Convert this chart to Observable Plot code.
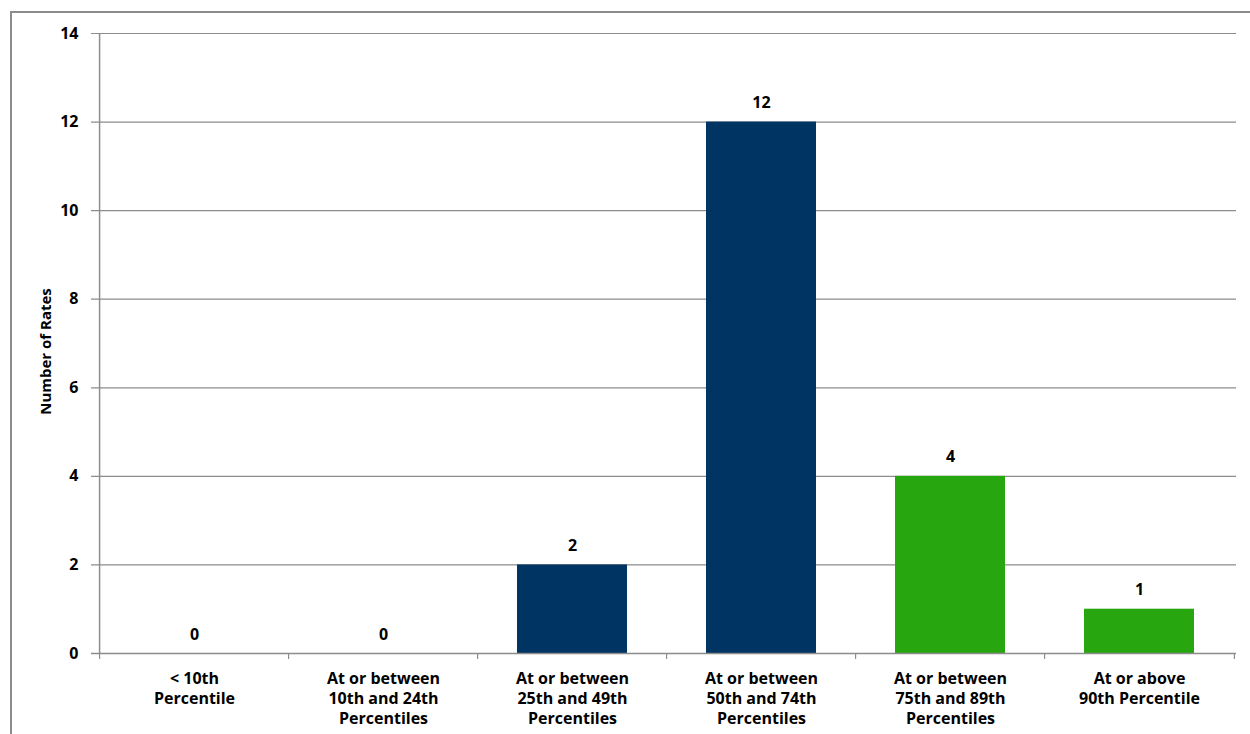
<!DOCTYPE html>
<html><head><meta charset="utf-8">
<script src="https://cdn.jsdelivr.net/npm/d3@7"></script>
<script src="https://cdn.jsdelivr.net/npm/@observablehq/plot@0.6"></script>
<style>
html,body{margin:0;padding:0;background:#fff;width:1250px;height:734px;overflow:hidden;}
#frame{position:absolute;left:10px;top:11px;width:1300px;height:800px;border-left:2px solid #8c8c8c;border-top:2px solid #8c8c8c;box-sizing:border-box;}
#chart{position:absolute;left:0;top:0;}
</style></head>
<body>
<div id="frame"></div>
<div id="chart"></div>
<script>
const categories = [
  "< 10th\nPercentile",
  "At or between\n10th and 24th\nPercentiles",
  "At or between\n25th and 49th\nPercentiles",
  "At or between\n50th and 74th\nPercentiles",
  "At or between\n75th and 89th\nPercentiles",
  "At or above\n90th Percentile"
];
const values = [0, 0, 2, 12, 4, 1];
const groups = ["below", "below", "below", "below", "above", "above"];
const yTicks = [0, 2, 4, 6, 8, 10, 12, 14];
const yLabel = "Number of Rates";

const data = categories.map((c, i) => ({category: c, value: values[i], group: groups[i]}));

const W = 1250, H = 734, mL = 97, mR = 14, mT = 33, mB = 81;
const step = (W - mL - mR) / categories.length;
const gray = "#8c8c8c";
const font = "'Open Sans', Lato, sans-serif";

const plot = Plot.plot({
  width: W, height: H,
  marginLeft: mL, marginRight: mR, marginTop: mT, marginBottom: mB,
  style: {fontFamily: font, fontWeight: "bold", fontSize: "16px", color: "#000", background: "transparent"},
  x: {domain: categories, paddingInner: 0.42, paddingOuter: 0.21, label: null},
  y: {domain: [0, 14], label: null},
  color: {domain: ["below", "above"], range: ["#003462", "#28a60f"]},
  marks: [
    Plot.ruleY(yTicks, {stroke: gray, strokeWidth: 1.2, insetLeft: -6}),
    Plot.ruleX([categories[0]], {stroke: gray, strokeWidth: 1.5, dx: -step / 2}),
    Plot.barY(data, {x: "category", y: "value", fill: "group"}),
    Plot.ruleY([0], {stroke: gray, strokeWidth: 1.5, insetLeft: -6}),
    Plot.ruleX(categories, {y1: 0, y2: 0, insetBottom: -6, stroke: gray, strokeWidth: 1.2, dx: -step / 2}),
    Plot.ruleX([categories[categories.length - 1]], {y1: 0, y2: 0, insetBottom: -6, stroke: gray, strokeWidth: 1.2, dx: step / 2}),
    Plot.text(data, {x: "category", y: "value", text: d => String(d.value), dy: -19, fontSize: 16, fontWeight: "bold", fill: "#000"}),
    Plot.axisY({ticks: yTicks, tickSize: 0, tickPadding: 19, fontSize: 16, fontWeight: "bold", label: null}),
    Plot.axisX({tickSize: 0, tickPadding: 16, fontSize: 16, fontWeight: "bold", lineHeight: 1.25, label: null}),
    Plot.text([yLabel], {frameAnchor: "left", textAnchor: "middle", text: d => d, rotate: -90, dx: -51, dy: 8, fontSize: 15, fontWeight: "bold", fill: "#000"})
  ]
});
document.getElementById("chart").appendChild(plot);
</script>
</body></html>
